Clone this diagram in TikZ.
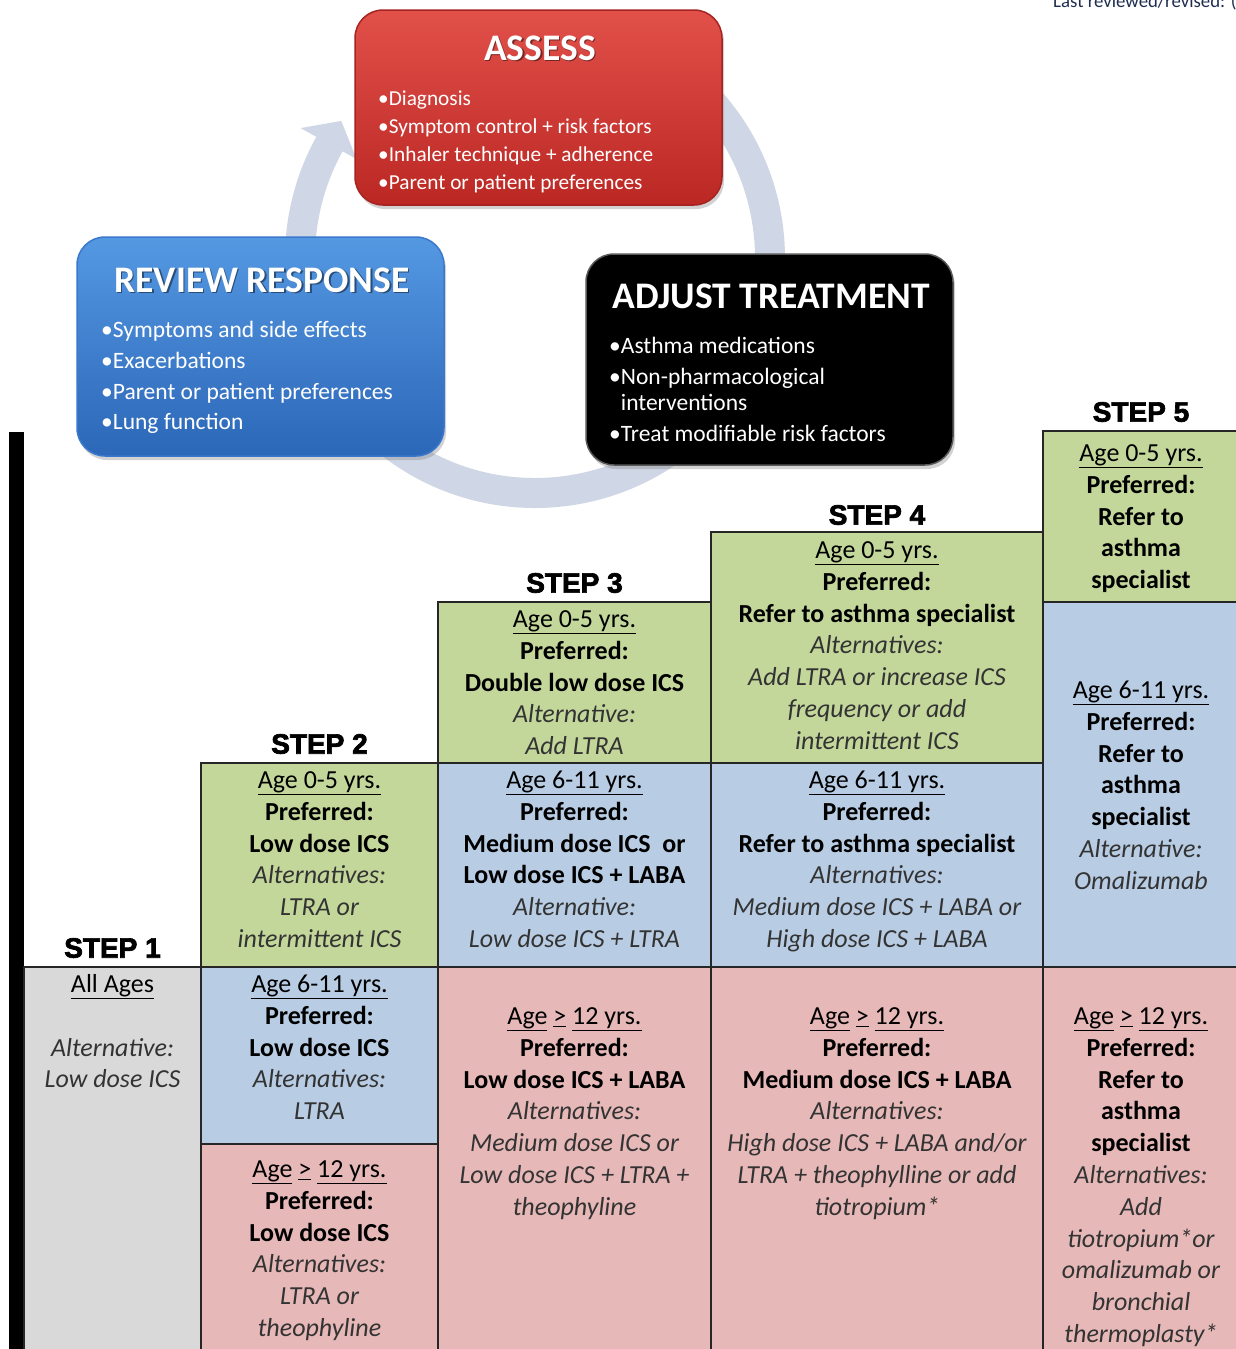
\documentclass[tikz,border=0pt]{standalone}
\usepackage{fontspec}
\setmainfont{Carlito}
\newfontfamily\stepfont{Liberation Sans}[BoldFeatures={FakeBold=2.5}]
\usetikzlibrary{shadows}
\definecolor{cgreen}{RGB}{196,215,155}
\definecolor{cblue}{RGB}{184,204,228}
\definecolor{cpink}{RGB}{230,184,183}
\definecolor{cgray}{RGB}{217,217,217}
\definecolor{ringc}{RGB}{207,215,230}
\definecolor{redtop}{RGB}{226,80,74}
\definecolor{redbot}{RGB}{187,40,36}
\definecolor{redbrd}{RGB}{165,35,32}
\definecolor{bluetop}{RGB}{84,152,226}
\definecolor{bluebot}{RGB}{44,103,184}
\definecolor{bluebrd}{RGB}{58,120,205}
\definecolor{navy}{RGB}{30,45,80}
\newcommand\Ux[1]{\underline{#1}}
\newcommand\It[1]{{\itshape\color{black!80}#1}}
\newcommand\agegt{\Ux{Age} \Ux{>} \Ux{12 yrs.}}
\newcommand\ctext[4]{\node[celltxt] (#1) at (#2,#3-14) {\strut#4};}
\begin{document}
\begin{tikzpicture}[x=1pt,y=-1pt,
  cell/.style={draw=black!85,line width=1.1pt},
  celltxt/.style={align=center,inner sep=0pt,anchor=north,font=\fontsize{26}{31.8}\selectfont},
  steplbl/.style={inner sep=0pt,font=\stepfont\bfseries\fontsize{28}{30}\selectfont},
  bigbox/.style={rounded corners=28pt,line width=1.5pt,inner sep=0pt,
     drop shadow={opacity=0.35,shadow xshift=2pt,shadow yshift=-4pt}},
  boxtitle/.style={text=white,inner sep=0pt,anchor=base,font=\bfseries\fontsize{37.5}{40}\selectfont},
  titleshadow/.style={boxtitle,text=black,text opacity=0.45},
  bullets/.style={text=white,inner sep=0pt,anchor=north west,align=left}]
\useasboundingbox (0,0) rectangle (1236,1349);
\clip (0,0) rectangle (1236,1349);
\fill[white] (0,0) rectangle (1236,1349);

% cycle ring
\draw[ringc,line width=30pt] (686.06,77.99) arc[start angle=-50,end angle=209.5,radius=235];
\fill[ringc] (300.6,128.1) -- (341.2,120.9) -- (356.6,159.1) -- cycle;

% boxes
\node[bigbox,draw=redbrd,top color=redtop,bottom color=redbot,minimum width=367,minimum height=195] (assess) at (538.5,107.5) {};
\node[bigbox,draw=bluebrd,top color=bluetop,bottom color=bluebot,minimum width=367,minimum height=219] (review) at (260.5,346.5) {};
\node[bigbox,draw=black!65,fill=black,minimum width=367,minimum height=211] (adjust) at (769.5,359.5) {};

\node[titleshadow] (assts) at (541.5,61.5) {ASSESS};
\node[titleshadow] (revts) at (263.5,293.5) {REVIEW RESPONSE};
\node[boxtitle] (asst) at (540,60) {ASSESS};
\node[boxtitle] (revt) at (262,292) {REVIEW RESPONSE};
\node[boxtitle] (adjt) at (771,308) {ADJUST TREATMENT};

\node[bullets,font=\fontsize{21.3}{27.7}\selectfont] (assb) at (378,86.4)
  {\strut•Diagnosis\\•Symptom control + risk factors\\•Inhaler technique + adherence\\•Parent or patient preferences};
\node[bullets,font=\fontsize{23.5}{30.7}\selectfont] (revb) at (101,316)
  {\strut•Symptoms and side effects\\•Exacerbations\\•Parent or patient preferences\\•Lung function};
\node[bullets,font=\fontsize{23.5}{26}\selectfont] (adjb) at (609,335.3)
  {\strut•Asthma medications\\[5pt]•Non-pharmacological\\\phantom{•}interventions\\[5pt]•Treat modifiable risk factors};

\node[anchor=base west,inner sep=0pt,text=navy,font=\fontsize{18.8}{20}\selectfont] (lastrev) at (1053,7) {Last reviewed/revised: (};

% left bar
\fill[black] (9,432) rectangle (24,1360);

% cells
\path[cell,fill=cgray] (24,967) rectangle (201,1360);
\path[cell,fill=cgreen] (201,763) rectangle (438,967);
\path[cell,fill=cblue] (201,967) rectangle (438,1144);
\path[cell,fill=cpink] (201,1144) rectangle (438,1360);
\path[cell,fill=cgreen] (438,602) rectangle (711,763);
\path[cell,fill=cblue] (438,763) rectangle (711,967);
\path[cell,fill=cpink] (438,967) rectangle (711,1360);
\path[cell,fill=cgreen] (711,532) rectangle (1043,763);
\path[cell,fill=cblue] (711,763) rectangle (1043,967);
\path[cell,fill=cpink] (711,967) rectangle (1043,1360);
\path[cell,fill=cgreen] (1043,431) rectangle (1245,602);
\path[cell,fill=cblue] (1043,602) rectangle (1245,967);
\path[cell,fill=cpink] (1043,967) rectangle (1245,1360);

% step labels
\node[steplbl] (s1) at (112.5,948) {STEP 1};
\node[steplbl] (s2) at (319.5,744) {STEP 2};
\node[steplbl] (s3) at (574.5,583) {STEP 3};
\node[steplbl] (s4) at (877,515) {STEP 4};
\node[steplbl] (s5) at (1141,412) {STEP 5};

% cell texts
\ctext{t1}{112.5}{984}{\Ux{All Ages}\\\strut\\\It{Alternative:}\\\It{Low dose ICS}}
\ctext{t2a}{319.5}{780}{\Ux{Age 0-5 yrs.}\\\textbf{Preferred:}\\\textbf{Low dose ICS}\\\It{Alternatives:}\\\It{LTRA or}\\\It{intermittent ICS}}
\ctext{t2b}{319.5}{984}{\Ux{Age 6-11 yrs.}\\\textbf{Preferred:}\\\textbf{Low dose ICS}\\\It{Alternatives:}\\\It{LTRA}}
\ctext{t2c}{319.5}{1169}{\agegt\\\textbf{Preferred:}\\\textbf{Low dose ICS}\\\It{Alternatives:}\\\It{LTRA or}\\\It{theophyline}}
\ctext{t3a}{574.5}{619}{\Ux{Age 0-5 yrs.}\\\textbf{Preferred:}\\\textbf{Double low dose ICS}\\\It{Alternative:}\\\It{Add LTRA}}
\ctext{t3b}{574.5}{780}{\Ux{Age 6-11 yrs.}\\\textbf{Preferred:}\\\textbf{Medium dose ICS\ \ or}\\\textbf{Low dose ICS + LABA}\\\It{Alternative:}\\\It{Low dose ICS + LTRA}}
\ctext{t3c}{574.5}{1016}{\agegt\\\textbf{Preferred:}\\\textbf{Low dose ICS + LABA}\\\It{Alternatives:}\\\It{Medium dose ICS or}\\\It{Low dose ICS + LTRA +}\\\It{theophyline}}
\ctext{t4a}{877}{550}{\Ux{Age 0-5 yrs.}\\\textbf{Preferred:}\\\textbf{Refer to asthma specialist}\\\It{Alternatives:}\\\It{Add LTRA or increase ICS}\\\It{frequency or add}\\\It{intermittent ICS}}
\ctext{t4b}{877}{780}{\Ux{Age 6-11 yrs.}\\\textbf{Preferred:}\\\textbf{Refer to asthma specialist}\\\It{Alternatives:}\\\It{Medium dose ICS + LABA or}\\\It{High dose ICS + LABA}}
\ctext{t4c}{877}{1016}{\agegt\\\textbf{Preferred:}\\\textbf{Medium dose ICS + LABA}\\\It{Alternatives:}\\\It{High dose ICS + LABA and/or}\\\It{LTRA + theophylline or add}\\\It{tiotropium*}}
\ctext{t5a}{1141}{453}{\Ux{Age 0-5 yrs.}\\\textbf{Preferred:}\\\textbf{Refer to}\\\textbf{asthma}\\\textbf{specialist}}
\ctext{t5b}{1141}{690}{\Ux{Age 6-11 yrs.}\\\textbf{Preferred:}\\\textbf{Refer to}\\\textbf{asthma}\\\textbf{specialist}\\\It{Alternative:}\\\It{Omalizumab}}
\ctext{t5c}{1141}{1016}{\agegt\\\textbf{Preferred:}\\\textbf{Refer to}\\\textbf{asthma}\\\textbf{specialist}\\\It{Alternatives:}\\\It{Add}\\\It{tiotropium*or}\\\It{omalizumab or}\\\It{bronchial}\\\It{thermoplasty*}}
\end{tikzpicture}
\end{document}
